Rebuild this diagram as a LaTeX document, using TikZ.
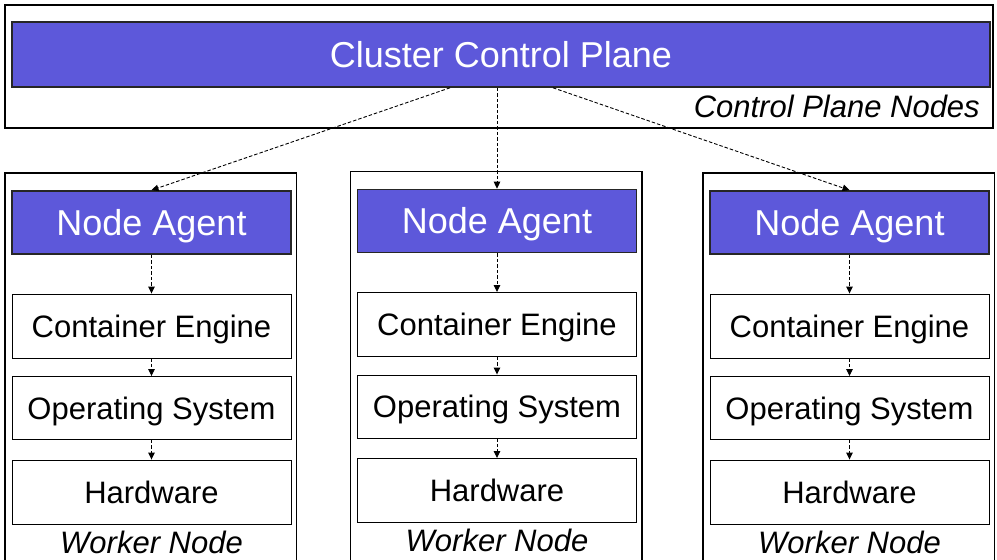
\documentclass[tikz,border=0pt]{standalone}
\usepackage{fontspec}
\setmainfont{Liberation Sans}
\usetikzlibrary{arrows.meta,calc}
\definecolor{agentblue}{RGB}{93,88,218}
\begin{document}
\begin{tikzpicture}[x=1pt,y=-1pt,
  bigtext/.style={font=\fontsize{36}{40}\selectfont},
  midtext/.style={font=\fontsize{31}{36}\selectfont},
  bluebox/.style={draw=black!85,line width=1.6pt,fill=agentblue,text=white,
    inner sep=0pt,text height=25.8pt,text depth=0pt,bigtext},
  layerbox/.style={draw=black,line width=0.9pt,fill=white,
    inner sep=0pt,text height=22.2pt,text depth=0pt,midtext},
  frame/.style={draw=black,line width=1.1pt},
  caption/.style={font=\fontsize{31}{36}\selectfont\itshape,inner sep=0pt},
  link/.style={draw=black,line width=0.9pt,dash pattern=on 3.5pt off 2pt,
    -{Triangle[length=7pt,width=6.5pt]}}
]
\useasboundingbox (0,0) rectangle (997,560);
\clip (0,0) rectangle (997,560);

% control plane
\draw[frame] (5,5) rectangle (993,128);
\node[bluebox,minimum width=978pt,minimum height=65pt] (cp) at (501,54.5) {Cluster Control Plane};
\node[caption,anchor=base east] (cpn) at (980,117) {Control Plane Nodes};
\coordinate (cpl) at ($(cp.south)+(-51,0)$);
\coordinate (cpr) at ($(cp.south)+(52,0)$);

% worker columns
\foreach \c/\x/\dy in {l/151.5/0, m/497/-1.5, r/849.5/0}{
  \draw[frame] (\x-146.5,173+\dy) rectangle (\x+145,575);
  \node[bluebox,minimum width=279pt,minimum height=63pt] (na\c) at (\x,222.5+\dy) {Node Agent};
  \node[layerbox,minimum width=279pt,minimum height=64pt] (ce\c) at (\x,326+\dy) {Container Engine};
  \node[layerbox,minimum width=279pt,minimum height=63pt] (os\c) at (\x,408+\dy) {Operating System};
  \node[layerbox,minimum width=279pt,minimum height=64pt] (hw\c) at (\x,492+\dy) {Hardware};
  \node[caption,anchor=base] (wn\c) at (\x,553+\dy) {Worker Node};
  \draw[link] (na\c.south) -- (ce\c.north);
  \draw[link] (ce\c.south) -- (os\c.north);
  \draw[link] (os\c.south) -- (hw\c.north);
}

% control plane to node agents
\draw[link] (cpl) -- (nal.north);
\draw[link] (cp.south -| nam.north) -- (nam.north);
\draw[link] (cpr) -- (nar.north);
\end{tikzpicture}
\end{document}
